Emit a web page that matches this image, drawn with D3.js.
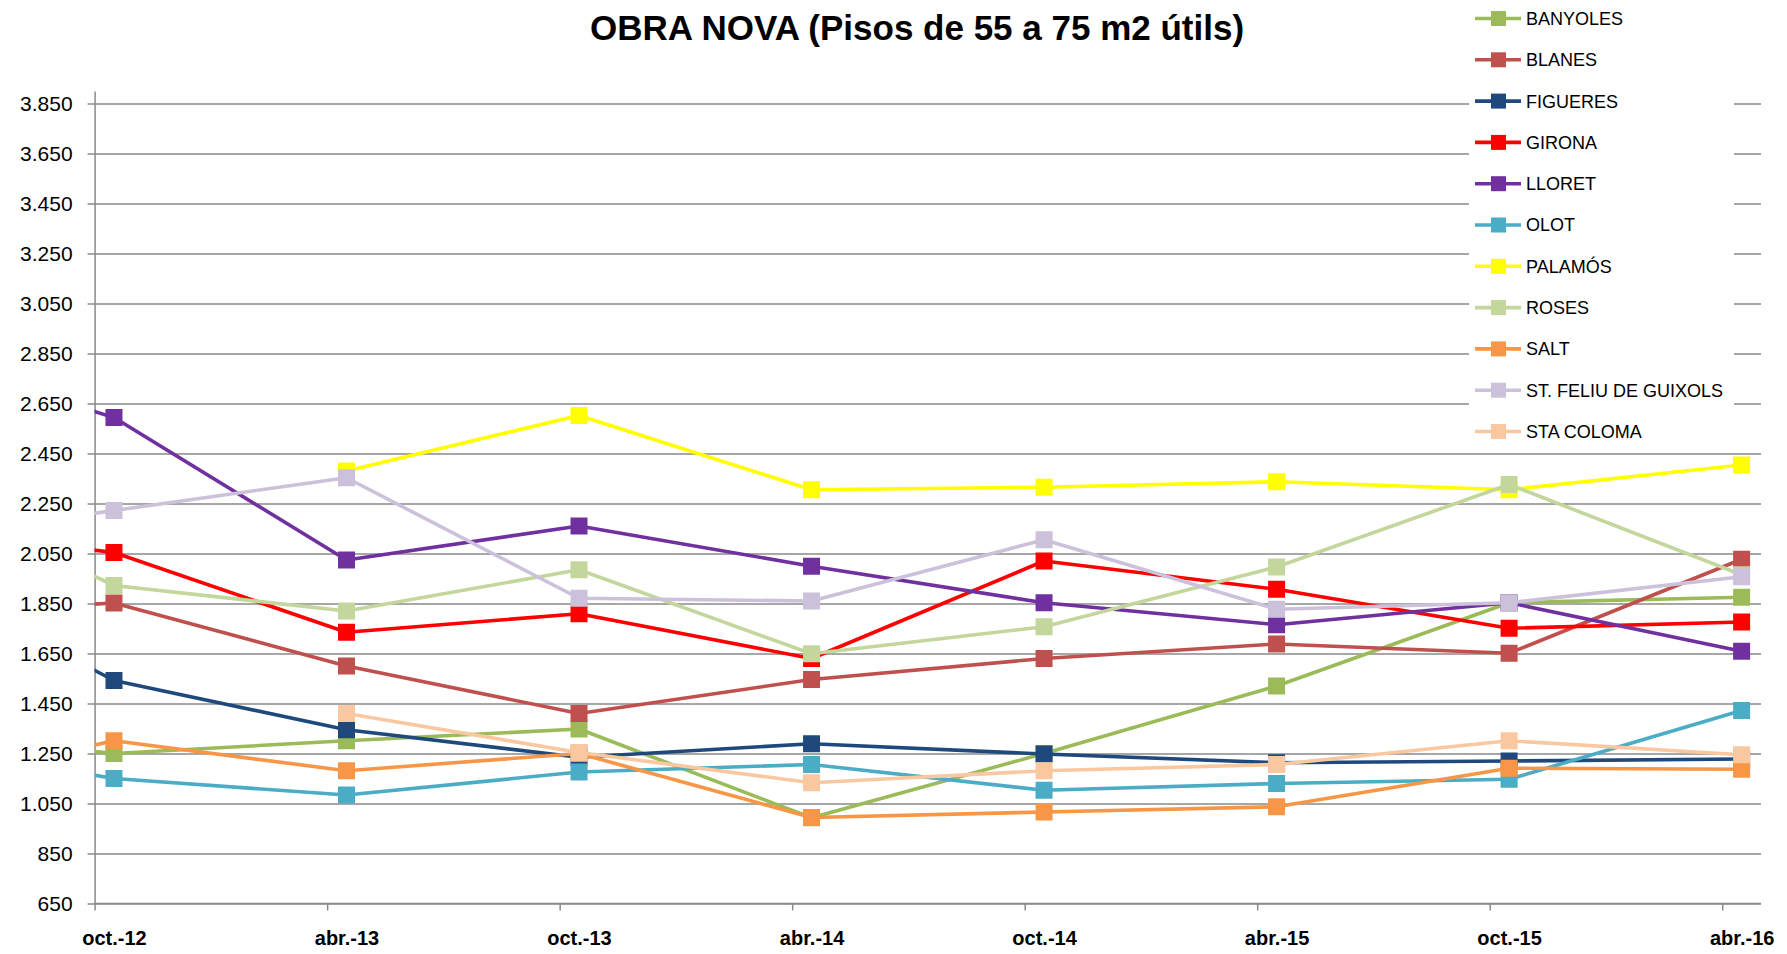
<!DOCTYPE html>
<html>
<head>
<meta charset="utf-8">
<script src="https://cdn.jsdelivr.net/npm/d3@7"></script>
<style>
  html, body { margin: 0; padding: 0; background: #fff; }
  svg { display: block; font-family: "Liberation Sans", Arial, sans-serif; }
  .axis path, .axis line { stroke: #8a8a8a; stroke-width: 1.5; }
  .grid line { stroke: #8a8a8a; stroke-width: 1.5; }
</style>
</head>
<body>
<div id="chart"></div>
<script>
// survey periods shown on the axis (yyyy-mm)
const periods = ['2012-10', '2013-04', '2013-10', '2014-04', '2014-10', '2015-04', '2015-10', '2016-04'];
const periodLabels = ['oct.-12', 'abr.-13', 'oct.-13', 'abr.-14', 'oct.-14', 'abr.-15', 'oct.-15', 'abr.-16'];
// earlier survey, it sits left of the axis start and is clipped away
const priorPeriod = '2012-04';

const towns = ['BANYOLES', 'BLANES', 'FIGUERES', 'GIRONA', 'LLORET', 'OLOT', 'PALAMÓS', 'ROSES', 'SALT', 'ST. FELIU DE GUIXOLS', 'STA COLOMA'];
const townColors = ['#9bbb59', '#c0504d', '#1f497d', '#ff0000', '#7030a0', '#4bacc6', '#ffff00', '#c3d69b', '#f79646', '#ccc1da', '#fac8a0'];

const banyoles  = [1250, 1301, 1348, 993, 1250, 1520, 1853, 1875];
const blanes    = [1852, 1600, 1410, 1546, 1630, 1688, 1651, 2027];
const figueres  = [1542, 1345, 1235, 1289, 1248, 1213, 1220, 1228];
const girona    = [2054, 1735, 1809, 1630, 2020, 1907, 1751, 1776];
const lloret    = [2594, 2024, 2160, 1999, 1853, 1765, 1853, 1659];
const olot      = [1150, 1084, 1176, 1206, 1103, 1130, 1147, 1422];
const palamos   = [null, 2380, 2602, 2305, 2315, 2337, 2305, 2404];
const roses     = [1922, 1820, 1985, 1649, 1757, 1996, 2326, 1965];
const salt      = [1301, 1181, 1250, 994, 1016, 1037, 1191, 1187];
const stFeliu   = [2222, 2353, 1871, 1860, 2105, 1827, 1853, 1957];
const staColoma = [null, 1410, 1254, 1133, 1181, 1206, 1301, 1245];
// values of the clipped earlier survey, same order as towns
const priorValues = [1350, 1800, 2030, 2165, 2880, 1310, null, 2360, 1100, 2090, null];

const yTicks = d3.range(650, 3851, 200);

const seriesValues = [banyoles, blanes, figueres, girona, lloret, olot, palamos, roses, salt, stFeliu, staColoma];

const W = 1787, H = 954;
const plot = { left: 94.6, right: 1761, top: 91, bottom: 903.5 };

const parseMonth = d3.timeParse('%Y-%m');
const axisStart = parseMonth('2012-10');
const axisEnd = parseMonth('2016-05');
const monthIndex = s => d3.timeMonth.count(axisStart, parseMonth(s));

const x = d3.scaleLinear()
    .domain([0, d3.timeMonth.count(axisStart, axisEnd)])
    .range([plot.left, plot.right]);

const y = d3.scaleLinear()
    .domain([650, 3900])
    .range([plot.bottom, plot.top]);

const fmt = d3.formatLocale({ decimal: ',', thousands: '.', grouping: [3], currency: ['', '€'] }).format(',d');

const svg = d3.select('#chart').append('svg')
    .attr('width', W)
    .attr('height', H);

svg.append('rect').attr('width', W).attr('height', H).attr('fill', '#fff');

svg.append('defs').append('clipPath').attr('id', 'plotClip')
    .append('rect')
    .attr('x', plot.left)
    .attr('y', plot.top - 20)
    .attr('width', plot.right - plot.left + 20)
    .attr('height', plot.bottom - plot.top + 40);

// horizontal gridlines
svg.append('g')
    .attr('class', 'grid')
    .attr('transform', `translate(${plot.left},0)`)
    .call(d3.axisLeft(y).tickValues(yTicks).tickSize(-(plot.right - plot.left)).tickFormat(''))
    .call(g => g.select('.domain').remove());

// y axis
svg.append('g')
    .attr('class', 'axis')
    .attr('transform', `translate(${plot.left},0)`)
    .call(d3.axisLeft(y).tickValues(yTicks).tickSize(7).tickSizeOuter(0).tickPadding(15).tickFormat(fmt))
    .call(g => g.selectAll('text')
        .attr('fill', '#000')
        .style('font-size', '21px'));

// x axis: ticks at the start of each period, labels centred on the month
const tickMonths = periods.map(monthIndex);
svg.append('g')
    .attr('class', 'axis')
    .attr('transform', `translate(0,${plot.bottom})`)
    .call(d3.axisBottom(x).tickValues(tickMonths).tickSize(7).tickSizeOuter(0).tickFormat(''))
    .call(g => g.select('.domain').attr('d', `M${plot.left},0H${plot.right}`));

svg.append('g')
    .attr('transform', `translate(0,${plot.bottom})`)
    .call(d3.axisBottom(x)
        .tickValues(tickMonths.map(m => m + 0.5))
        .tickSize(0)
        .tickPadding(27)
        .tickFormat((d, i) => periodLabels[i]))
    .call(g => g.select('.domain').remove())
    .call(g => g.selectAll('text')
        .attr('fill', '#000')
        .style('font-size', '20px')
        .style('font-weight', 'bold'));

// series
const monthsAll = [priorPeriod, ...periods].map(monthIndex);
const line = d3.line()
    .defined(d => d.v != null)
    .x(d => x(d.m + 0.5))
    .y(d => y(d.v));

const seriesLayer = svg.append('g').attr('clip-path', 'url(#plotClip)');
const markerSize = 17;

towns.forEach((name, i) => {
    const pts = [priorValues[i], ...seriesValues[i]].map((v, j) => ({ m: monthsAll[j], v }));
    const g = seriesLayer.append('g');
    g.append('path')
        .datum(pts)
        .attr('d', line)
        .attr('fill', 'none')
        .attr('stroke', townColors[i])
        .attr('stroke-width', 3.6)
        .attr('stroke-linejoin', 'round');
    g.selectAll('rect')
        .data(pts.slice(1).filter(d => d.v != null))
        .enter().append('rect')
        .attr('x', d => x(d.m + 0.5) - markerSize / 2)
        .attr('y', d => y(d.v) - markerSize / 2)
        .attr('width', markerSize)
        .attr('height', markerSize)
        .attr('fill', townColors[i]);
});

// title
svg.append('text')
    .attr('x', 917)
    .attr('y', 40)
    .attr('text-anchor', 'middle')
    .style('font-size', '35px')
    .style('font-weight', 'bold')
    .text('OBRA NOVA (Pisos de 55 a 75 m2 útils)');

// legend
const legend = svg.append('g');
legend.append('rect')
    .attr('x', 1469)
    .attr('y', 0)
    .attr('width', 265)
    .attr('height', 446)
    .attr('fill', '#fff');

const legendItems = legend.selectAll('g.item')
    .data(towns)
    .enter().append('g')
    .attr('class', 'item')
    .attr('transform', (d, i) => `translate(1475,${18.5 + i * 41.3})`);

legendItems.append('line')
    .attr('x1', 0).attr('x2', 46)
    .attr('stroke', (d, i) => townColors[i])
    .attr('stroke-width', 3.6);

legendItems.append('rect')
    .attr('x', 16).attr('y', -7.5)
    .attr('width', 15).attr('height', 15)
    .attr('fill', (d, i) => townColors[i]);

legendItems.append('text')
    .attr('x', 51)
    .attr('dy', '0.36em')
    .style('font-size', '18px')
    .attr('fill', '#000')
    .text(d => d);
</script>
</body>
</html>
